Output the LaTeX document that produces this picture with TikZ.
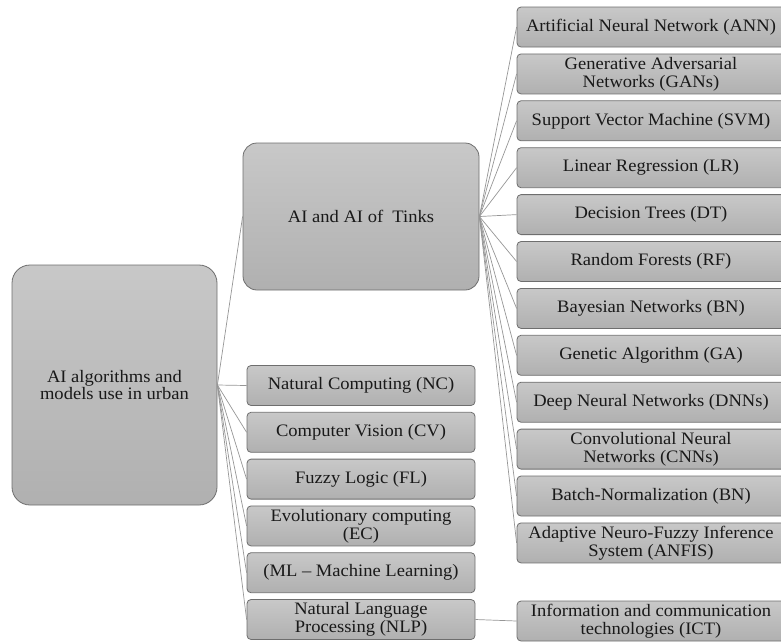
\documentclass[tikz,border=0pt]{standalone}
\usepackage{fontspec}
\setmainfont{Liberation Serif}[FakeStretch=1.06]
\definecolor{boxtop}{RGB}{200,200,200}
\definecolor{boxbot}{RGB}{176,176,176}
\definecolor{boxline}{RGB}{110,110,110}
\definecolor{conn}{RGB}{150,150,150}
\definecolor{txt}{RGB}{25,25,25}
\begin{document}
\begin{tikzpicture}[x=1pt,y=-1pt,
  base/.style={draw=boxline, line width=0.8pt, top color=boxtop, bottom color=boxbot,
     text=txt, align=center, inner sep=0pt,
     font=\fontsize{17.5}{18}\selectfont},
  rootbox/.style={base, rounded corners=18pt, minimum width=205pt, minimum height=240pt,
     font=\fontsize{17.5}{17}\selectfont},
  aibox/.style={base, rounded corners=14pt, minimum width=236pt, minimum height=147pt},
  leftbox/.style={base, rounded corners=4pt, minimum width=228pt, minimum height=40pt},
  rightbox/.style={base, rounded corners=4pt, minimum width=268pt, minimum height=40pt},
  link/.style={draw=conn, line width=0.7pt}
]
\useasboundingbox (0,0) rectangle (781,641);
\clip (0,0) rectangle (781,641);

\node[rootbox] (root) at (114.5,385) {AI algorithms and\\models use in urban};
\node[aibox] (ai) at (361,216.5) {AI and AI of\ \ Tinks};

\node[leftbox] (nc)  at (361,385.5) {Natural Computing (NC)};
\node[leftbox] (cv)  at (361,432.3) {Computer Vision (CV)};
\node[leftbox] (fl)  at (361,479.1) {Fuzzy Logic (FL)};
\node[leftbox] (ec)  at (361,525.9) {Evolutionary computing\\(EC)};
\node[leftbox] (ml)  at (361,572.7) {(ML -- Machine Learning)};
\node[leftbox] (nlp) at (361,619.5) {Natural Language\\Processing (NLP)};

\node[rightbox] (ann)   at (651,27)    {Artificial Neural Network (ANN)};
\node[rightbox] (gan)   at (651,73.9)  {Generative Adversarial\\Networks (GANs)};
\node[rightbox] (svm)   at (651,120.8) {Support Vector Machine (SVM)};
\node[rightbox] (lr)    at (651,167.7) {Linear Regression (LR)};
\node[rightbox] (dt)    at (651,214.6) {Decision Trees (DT)};
\node[rightbox] (rf)    at (651,261.5) {Random Forests (RF)};
\node[rightbox] (bn)    at (651,308.4) {Bayesian Networks (BN)};
\node[rightbox] (ga)    at (651,355.3) {Genetic Algorithm (GA)};
\node[rightbox] (dnn)   at (651,402.2) {Deep Neural Networks (DNNs)};
\node[rightbox] (cnn)   at (651,449.1) {Convolutional Neural\\Networks (CNNs)};
\node[rightbox] (batch) at (651,496)   {Batch-Normalization (BN)};
\node[rightbox] (anfis) at (651,542.9) {Adaptive Neuro-Fuzzy Inference\\System (ANFIS)};
\node[rightbox] (ict)   at (651,621)   {Information and communication\\technologies (ICT)};

\foreach \c in {ai,nc,cv,fl,ec,ml,nlp}
  \draw[link] (root.east) -- (\c.west);
\foreach \c in {ann,gan,svm,lr,dt,rf,bn,ga,dnn,cnn,batch,anfis}
  \draw[link] (ai.east) -- (\c.west);
\draw[link] (nlp.east) -- (ict.west);
\end{tikzpicture}
\end{document}
